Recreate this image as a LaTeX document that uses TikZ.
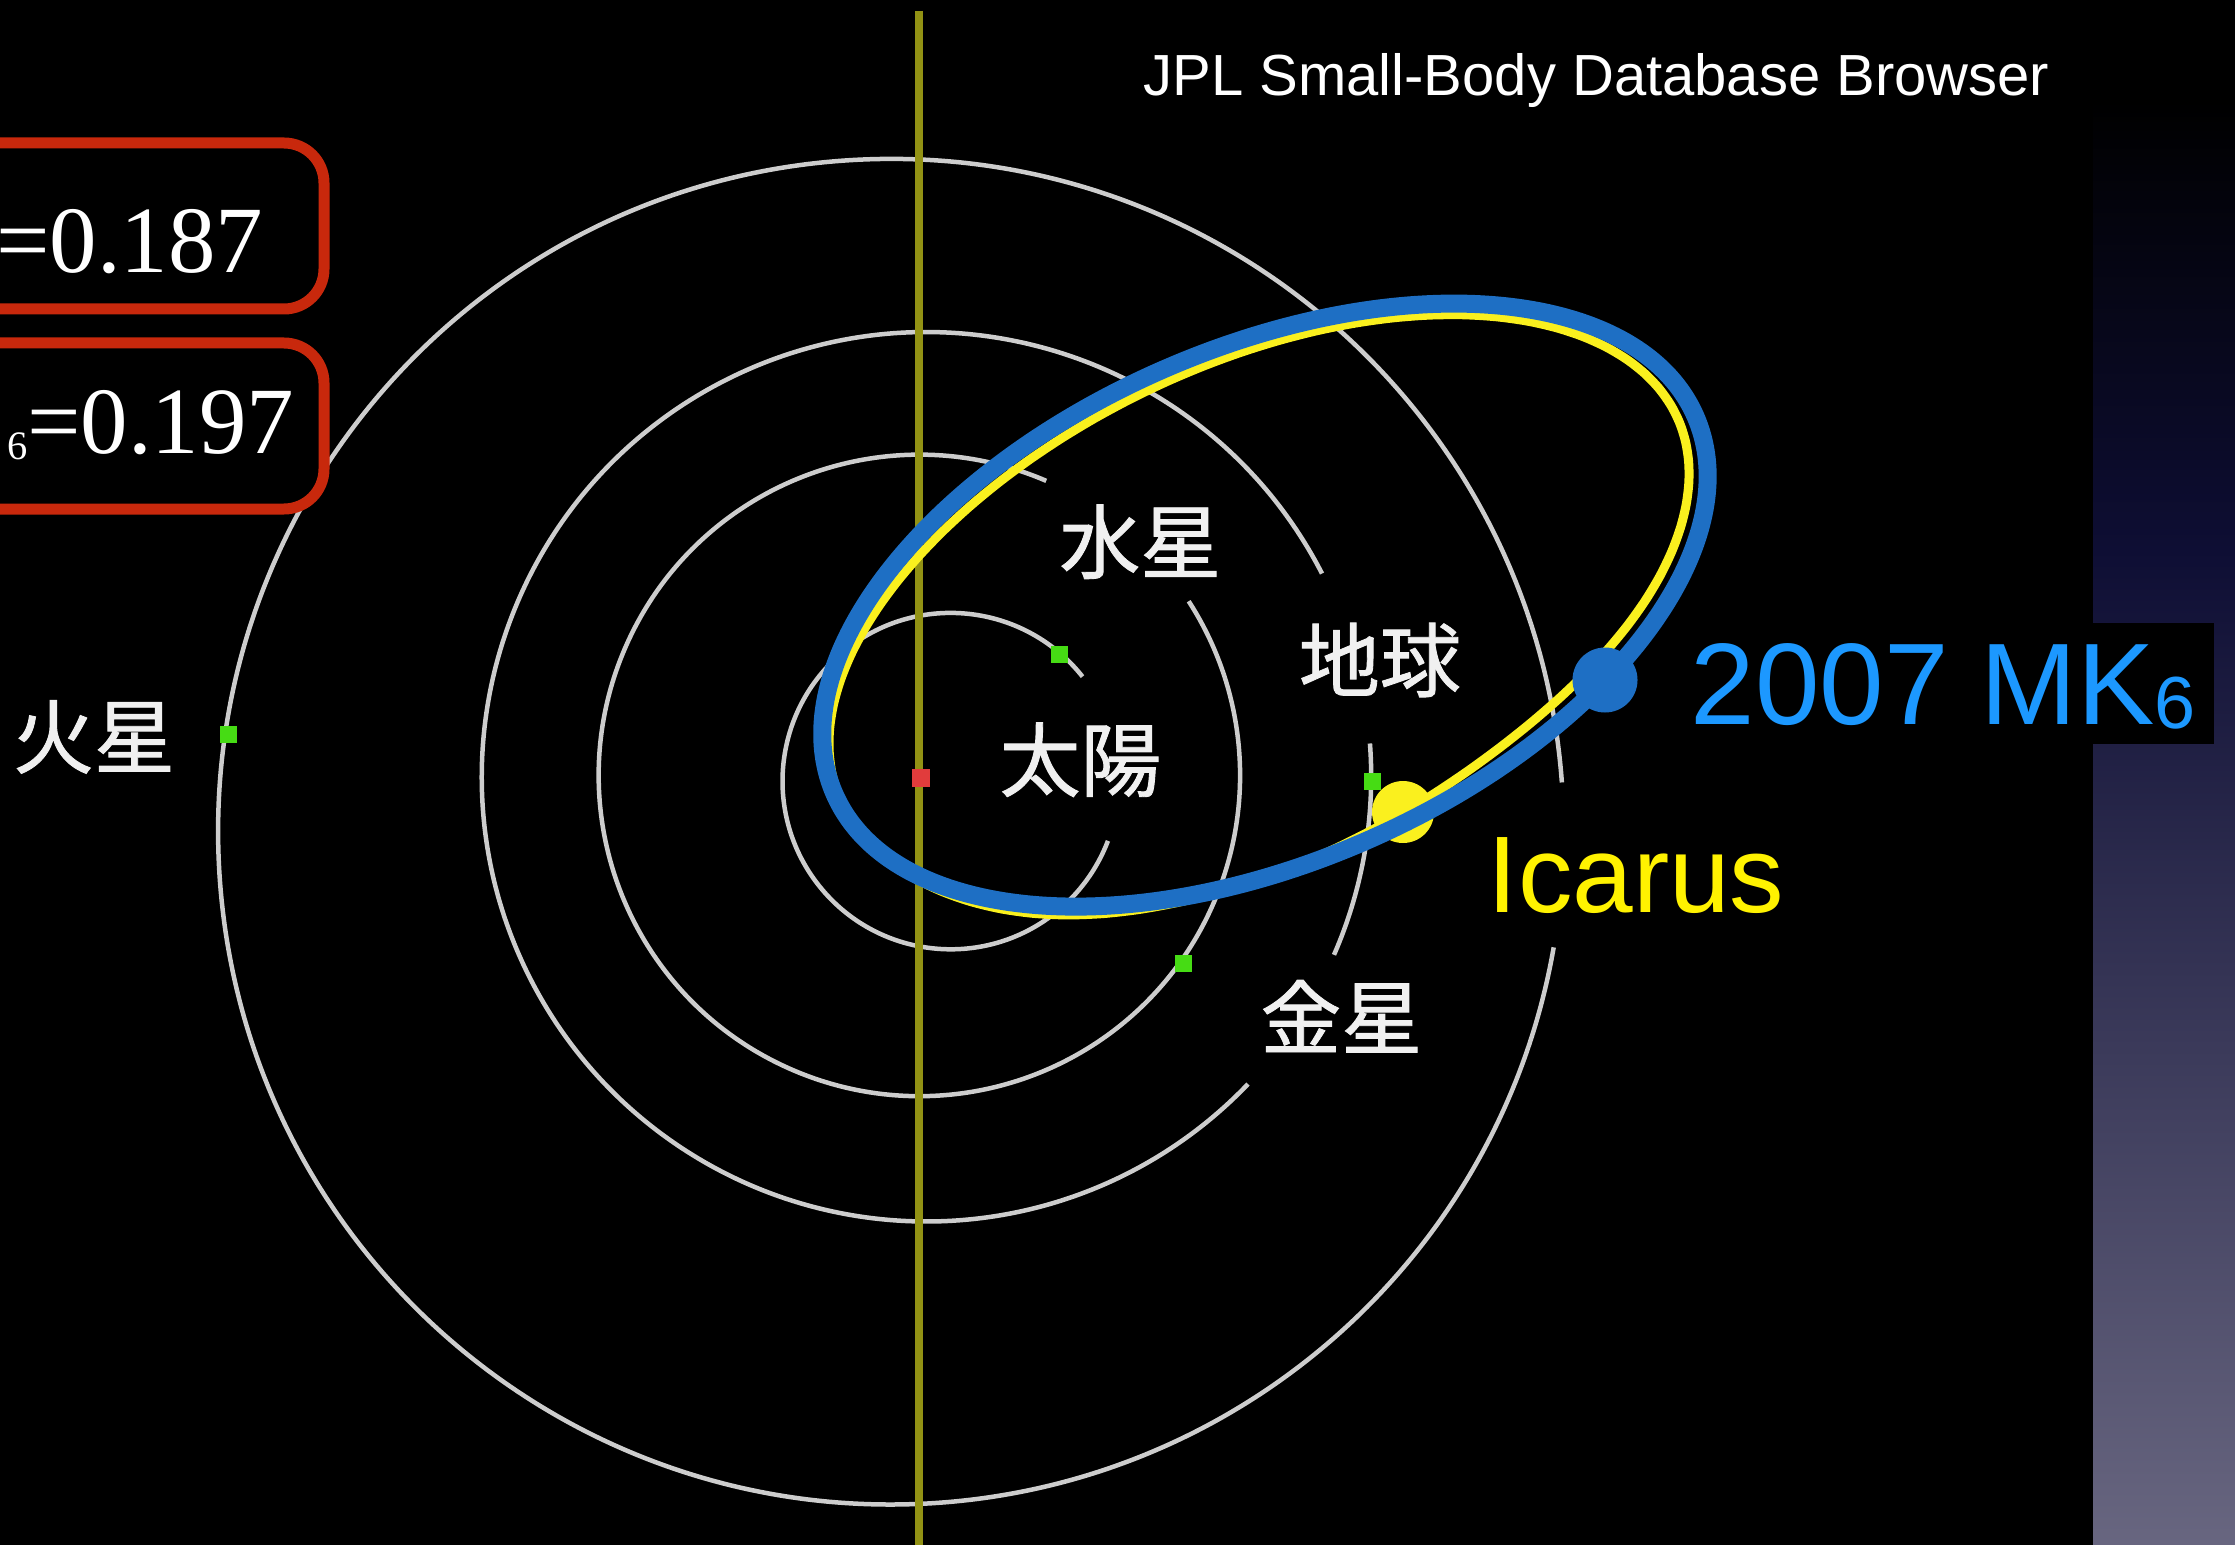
\documentclass[tikz,border=0pt]{standalone}
\usepackage{fontspec}
\setmainfont{Liberation Serif}
\setsansfont{Liberation Sans}
\newfontfamily\jpfont{Noto Sans CJK JP}[FakeBold=1.1]
\usetikzlibrary{calc}

\definecolor{orbitgray}{RGB}{205,205,205}
\definecolor{boxred}{RGB}{200,40,12}
\definecolor{mkblue}{RGB}{30,111,196}
\definecolor{mklabel}{RGB}{28,152,255}
\definecolor{icyellow}{RGB}{250,240,30}
\definecolor{axisolive}{RGB}{146,146,20}
\definecolor{planetgreen}{RGB}{70,220,20}
\definecolor{sunred}{RGB}{225,60,60}
\definecolor{stripnavy}{RGB}{14,14,52}
\definecolor{stripgray}{RGB}{104,102,128}

\begin{document}
\begin{tikzpicture}[
  orbit/.style={draw=orbitgray, line width=0.45mm},
  planet/.style={fill=planetgreen, minimum size=1.7mm, inner sep=0pt},
  jplabel/.style={font=\jpfont\fontsize{23}{23}\selectfont, text=white!94!black, inner sep=0pt},
  ebox/.style={draw=boxred, line width=1.1mm, fill=black, rounded corners=4mm},
  every node/.style={inner sep=0pt},
  declare function={
    orbnn(\t)=sqrt((2.566*cos(\t))^2+(4.701*sin(\t))^2);
    orbnx(\t)=(2.566*cos(\t)*0.91566-4.701*sin(\t)*0.40195)/orbnn(\t);
    orbny(\t)=(2.566*cos(\t)*0.40195+4.701*sin(\t)*0.91566)/orbnn(\t);
    icoff(\t)=-0.092-0.0702*cos(\t)-0.0425*sin(\t)-0.01*cos(2*\t)+0.0578*sin(2*\t)
      +0.04*exp(-((\t-228)/22)^2)-0.06*exp(-((\t-290)/25)^2);}]
  \useasboundingbox (0,0) rectangle (22.35,-15.45);
  \clip (0,0) rectangle (22.35,-15.45);
  \fill[black] (0,0) rectangle (22.35,-15.45);
  \shade[top color=black, bottom color=stripnavy] (20.93,-1.0) rectangle (22.35,-5.5);
  \shade[top color=stripnavy, bottom color=stripgray] (20.93,-5.5) rectangle (22.35,-15.45);

  % orbit centres
  \coordinate (cMercury) at (9.507,-7.811);
  \coordinate (cVenus) at (9.194,-7.754);
  \coordinate (cEarth) at (9.265,-7.768);
  \coordinate (cMars) at (8.909,-8.317);
  \coordinate (cEll) at (12.650,-6.051);

  \draw[orbit] ($(cMercury)+(38.4:1.682)$) arc[start angle=38.4, end angle=339.2, radius=1.682];
  \draw[orbit] ($(cVenus)+(66.7:3.207)$) arc[start angle=66.7, end angle=392.9, radius=3.207];
  \draw[orbit] ($(cEarth)+(27.2:4.447)$) arc[start angle=27.2, end angle=316.3, radius=4.447];
  \draw[orbit] ($(cEarth)+(4.3:4.447)$) arc[start angle=4.3, end angle=-23.6, radius=4.447];
  \draw[orbit] ($(cMars)+(4.2:6.728)$) arc[start angle=4.2, end angle=350.1, radius=6.728];

  \coordinate (axisTop) at (9.19,-0.11);
  \coordinate (axisBot) at (9.19,-15.45);
  \draw[axisolive, line width=0.8mm] (axisTop) -- (axisBot);

  \node[planet] (mercury) at (10.591,-6.543) {};
  \node[planet] (venus) at (11.831,-9.636) {};
  \node[planet] (earth) at (13.727,-7.811) {};
  \node[planet] (mars) at (2.281,-7.341) {};
  \node[fill=sunred, minimum size=1.8mm] (sun) at (9.208,-7.783) {};

  % Icarus orbit follows the 2007 MK6 one, a little inside it
  \draw[icyellow, line width=0.9mm] plot[variable=\t, domain=0:355, samples=72, smooth cycle]
    ({12.650+4.701*cos(\t)*0.91566-2.566*sin(\t)*0.40195+icoff(\t)*orbnx(\t)},
     {-6.051+4.701*cos(\t)*0.40195+2.566*sin(\t)*0.91566+icoff(\t)*orbny(\t)});
  \node[circle, fill=icyellow, minimum size=6.2mm] (icarus) at (14.03,-8.12) {};
  \draw[mkblue, line width=1.8mm, rotate around={23.7:(cEll)}] (cEll) ellipse[x radius=4.701, y radius=2.566];
  \node[circle, fill=mkblue, minimum size=6.5mm] (mk6) at (16.05,-6.80) {};

  \node[jplabel] (lblMercury) at (11.403,-5.417) {水星};
  \node[jplabel] (lblSun) at (10.805,-7.597) {太陽};
  \node[jplabel] (lblEarth) at (13.798,-6.600) {地球};
  \node[jplabel] (lblVenus) at (13.413,-10.163) {金星};
  \node[jplabel] (lblMars) at (0.941,-7.369) {火星};

  \node[anchor=base west, font=\sffamily\fontsize{16.5}{16.5}\selectfont, text=white] (title) at (11.43,-0.955) {JPL Small-Body Database Browser};

  \fill[black] (16.706,-6.229) rectangle (22.136,-7.441);
  \node[anchor=base west, font=\sffamily\fontsize{33}{33}\selectfont, text=mklabel] (lblMK) at (16.90,-7.241) {2007 MK\raisebox{-0.4mm}{\fontsize{21}{21}\selectfont 6}};
  \node[anchor=base west, font=\sffamily\fontsize{31}{31}\selectfont, text=yellow] (lblIcarus) at (14.87,-9.12) {Icarus};

  \draw[ebox] (-1,-1.43) rectangle (3.24,-3.09);
  \node[anchor=base east, font=\fontsize{27}{27}\selectfont, text=white] (qIcarus) at (2.64,-2.73) {=0.187};
  \draw[ebox] (-1,-3.43) rectangle (3.24,-5.09);
  \node[anchor=base east, font=\fontsize{27}{27}\selectfont, text=white] (qMK) at (2.95,-4.53) {\raisebox{-0.7mm}{\fontsize{11.5}{11.5}\selectfont 6}=0.197};
\end{tikzpicture}
\end{document}
